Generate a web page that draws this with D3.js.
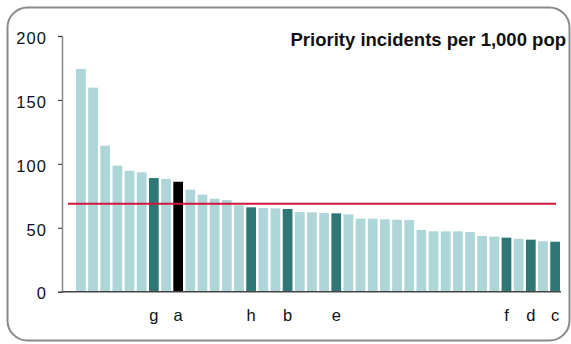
<!DOCTYPE html>
<html>
<head>
<meta charset="utf-8">
<script src="https://cdn.jsdelivr.net/npm/d3@7"></script>
<style>
  html, body { margin: 0; padding: 0; background: #fff; }
  svg { display: block; font-family: "Liberation Sans", Arial, Helvetica, sans-serif; }
</style>
</head>
<body>
<svg id="chart" width="571" height="344"></svg>
<script>
// ---- data ----
const labels = ["","","","","","","g","","a","","","","","","h","","","b","","","","e","","","","","","","","","","","","","","f","","d","","c"];
const values = [174.2,159.6,114.2,98.6,94.6,93.4,88.9,88.2,86.0,79.8,75.9,72.7,71.7,67.6,66.0,65.5,65.2,64.7,62.3,62.1,61.5,61.3,60.5,57.1,57.1,56.6,56.3,56.1,48.3,47.2,47.2,47.2,46.7,43.6,43.1,42.3,41.3,40.7,39.5,39.1];
const kinds  = ["l","l","l","l","l","l","d","l","k","l","l","l","l","l","d","l","l","d","l","l","l","d","l","l","l","l","l","l","l","l","l","l","l","l","l","d","l","d","l","d"];
const yTicks = [0, 50, 100, 150, 200];
const average = 68.8;
const title = "Priority incidents per 1,000 pop";

// ---- chart ----
const svg = d3.select("#chart");
const colors = { l: "#aed5d8", d: "#2f7677", k: "#000000" };

svg.append("rect")
  .attr("x", 7.5).attr("y", 7.5)
  .attr("width", 562).attr("height", 333)
  .attr("rx", 20).attr("ry", 20)
  .attr("fill", "#fff").attr("stroke", "#8a8a8a").attr("stroke-width", 2);

const idx = d3.range(values.length);
const x = d3.scaleBand().domain(idx).range([74.8, 561.2]).paddingInner(0.2).paddingOuter(0.1);
const y = d3.scaleLinear().domain([0, 200]).range([291.7, 36]);

// bars
svg.append("g").selectAll("rect").data(idx).join("rect")
  .attr("x", i => x(i))
  .attr("y", i => y(values[i]))
  .attr("width", x.bandwidth())
  .attr("height", i => y(0) - y(values[i]))
  .attr("fill", i => colors[kinds[i]]);

// y axis
const yAxis = svg.append("g").attr("transform", "translate(62,0)")
  .call(d3.axisLeft(y).tickValues(yTicks).tickSize(4).tickPadding(10));
yAxis.select(".domain").attr("stroke", "#888").attr("stroke-width", 1.5);
yAxis.selectAll(".tick line").attr("stroke", "#333");
yAxis.selectAll(".tick text")
  .attr("font-size", 16.5).attr("fill", "#111")
  .attr("letter-spacing", 1.1)
  .attr("x", -15)
  .attr("dy", "0.44em")
  .attr("font-family", "Liberation Sans, Arial, sans-serif");

// x axis
const xAxis = svg.append("g").attr("transform", `translate(0,${y(0)})`)
  .call(d3.axisBottom(x).tickSize(0).tickPadding(14).tickFormat(i => labels[i]));
xAxis.select(".domain").attr("d", `M62,0H561`).attr("stroke", "#444").attr("stroke-width", 1.5);
xAxis.selectAll(".tick text")
  .attr("font-size", 16.5).attr("fill", "#111")
  .attr("y", 29).attr("dy", 0)
  .attr("font-family", "Liberation Sans, Arial, sans-serif");

// average line
svg.append("line")
  .attr("x1", 68).attr("x2", 556)
  .attr("y1", y(average)).attr("y2", y(average))
  .attr("stroke", "#d2163d").attr("stroke-width", 2);

// title
svg.append("text")
  .attr("x", 566).attr("y", 46)
  .attr("text-anchor", "end")
  .attr("font-size", 18.5).attr("font-weight", "bold").attr("fill", "#111")
  .text(title);
</script>
</body>
</html>
